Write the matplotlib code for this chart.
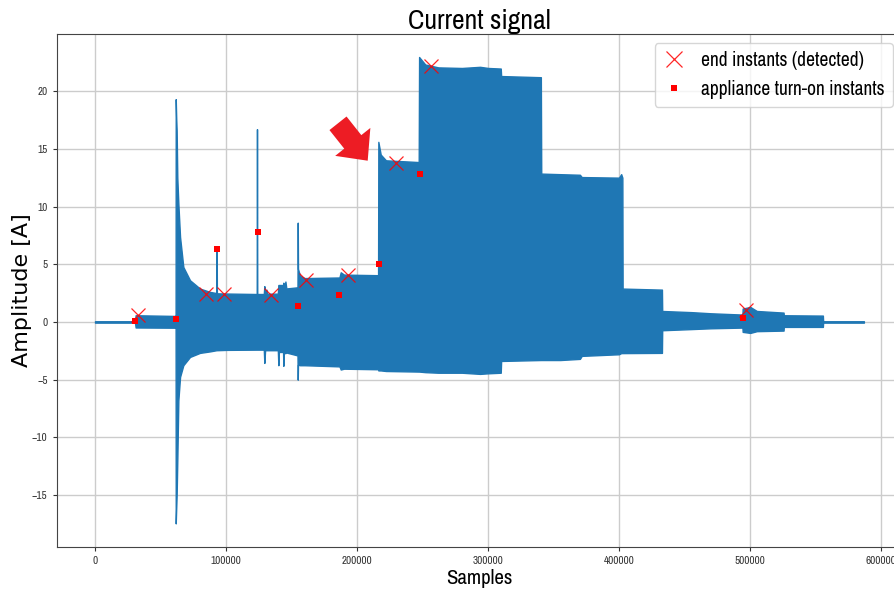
import matplotlib
matplotlib.use("Agg")
import matplotlib.pyplot as plt
from matplotlib import font_manager
from matplotlib.lines import Line2D
from matplotlib.patches import FancyArrow
from matplotlib.transforms import IdentityTransform

# the horizontal texts in the screenshot use a narrow face; take the narrowest one installed
narrow_family = 'Liberation Sans'
narrow_stretch = 'normal'
installed = font_manager.fontManager.ttflist
for f in installed:
    if ('Narrow' in f.name or 'Condensed' in f.name) and f.style == 'normal' and f.weight in (400, 'normal', 'regular'):
        narrow_family = f.name
        break
else:
    for f in installed:
        if f.stretch in ('condensed', 'semi-condensed') and f.style == 'normal' and f.weight in (400, 'normal', 'regular'):
            narrow_family = f.name
            narrow_stretch = f.stretch
            break
narrow = dict(family=[narrow_family, 'DejaVu Sans'], stretch=narrow_stretch)

# envelope of the current signal
env_x = [0, 30500, 31000, 61300, 61500, 61600, 62000, 62300, 62800, 63600,
         64900, 67400, 72500, 80100, 87800, 92700, 92860, 93000, 100500, 123400,
         123600, 123800, 128800, 129200, 129800, 130800, 131200, 139500, 139900, 140300,
         143500, 143700, 144000, 145300, 146000, 154500, 154700, 154900, 156400, 160000,
         186500, 187500, 190000, 216000, 216200, 218000, 222000, 247000, 247300, 252000,
         262000, 280000, 293800, 300000, 309600, 309900, 340200, 340500, 355000, 370000,
         371400, 399800, 401500, 402400, 402600, 432600, 432800, 455000, 470000, 494000,
         494200, 500000, 505000, 525400, 525600, 555400, 555600, 586700]
env_upper = [0.06, 0.06, 0.58, 0.52, 0.50, 19.3, 17.5, 16.6, 12.5, 10.25,
             7.36, 4.76, 3.61, 2.89, 2.60, 2.50, 6.35, 2.48, 2.46, 2.42,
             16.7, 2.42, 2.42, 3.1, 2.5, 2.8, 2.45, 2.45, 3.2, 3.2,
             3.2, 3.4, 2.7, 3.5, 2.9, 3.0, 8.6, 4.6, 4.0, 3.8,
             3.85, 4.3, 4.1, 4.05, 15.6, 14.5, 14.0, 13.85, 22.95, 22.3,
             22.05, 22.0, 22.1, 22.0, 21.95, 21.3, 21.2, 12.85, 12.8, 12.75,
             12.55, 12.5, 12.8, 12.5, 2.89, 2.8, 0.95, 0.85, 0.75, 0.64,
             1.16, 1.3, 0.95, 0.81, 0.58, 0.55, 0.06, 0.06]
env_lower = [-0.06, -0.06, -0.48, -0.50, -0.50, -17.45, -16.0, -15.0, -12.0, -6.8,
             -4.76, -3.75, -3.03, -2.68, -2.55, -2.45, -2.45, -2.45, -2.42, -2.40,
             -2.40, -2.40, -2.40, -3.55, -2.45, -2.45, -2.45, -2.45, -3.75, -2.6,
             -2.6, -3.8, -2.7, -2.7, -2.65, -2.9, -5.0, -3.7, -3.75, -3.75,
             -3.85, -4.12, -4.05, -4.1, -4.2, -4.2, -4.25, -4.3, -4.3, -4.35,
             -4.4, -4.4, -4.5, -4.45, -4.4, -3.38, -3.3, -3.3, -3.3, -3.2,
             -2.94, -2.8, -2.7, -2.7, -2.7, -2.68, -0.72, -0.62, -0.55, -0.49,
             -0.86, -0.95, -0.8, -0.75, -0.43, -0.43, -0.06, -0.06]

# end instants (detected)
end_x = [33100, 84400, 98700, 134600, 160800, 192800, 229700, 256100, 496700]
end_y = [0.58, 2.46, 2.46, 2.31, 3.67, 4.1, 13.77, 22.16, 1.07]

# appliance turn-on instants
on_x = [30800, 62100, 92900, 124100, 154900, 185900, 216700, 248000, 494600]
on_y = [0.09, 0.23, 6.35, 7.77, 1.36, 2.37, 5.05, 12.79, 0.38]

xticks = [0, 100000, 200000, 300000, 400000, 500000, 600000]
yticks = [-15, -10, -5, 0, 5, 10, 15, 20]

fig = plt.figure(figsize=(8.95, 5.92), dpi=100)
ax = fig.add_axes([0.0632, 0.0765, 0.945, 0.8666])

ax.fill_between(env_x, env_lower, env_upper, color='#1f77b4', edgecolor='#1f77b4', linewidth=1.0)
ax.plot(end_x, end_y, 'x', color='red', ms=10, mew=0.9, alpha=0.85)
ax.plot(on_x, on_y, 's', color='red', ms=4, mew=0)

ax.grid(True, color='#cccccc', linewidth=1.0)
ax.set_axisbelow(True)
for sp in ax.spines.values():
    sp.set_color('#444444')
ax.tick_params(labelsize=8, length=3, width=0.8, colors='#333333')
ax.set_xticks(xticks)
ax.set_xticklabels([str(t) for t in xticks], **narrow)
ax.set_yticks(yticks)
ax.set_yticklabels([str(t).replace('-', '\u2212') for t in yticks], **narrow)

ax.set_title('Current signal', fontsize=20, pad=3, **narrow)
ax.set_xlabel('Samples', fontsize=15, **narrow)
ax.xaxis.set_label_coords(0.5, -0.043)
ax.set_ylabel('Amplitude [A]', fontsize=16, family='DejaVu Sans')
ax.yaxis.set_label_coords(-0.029, 0.5)

handles = [Line2D([], [], ls='', marker='x', color='red', ms=12, mew=0.9, alpha=0.85),
           Line2D([], [], ls='', marker='s', color='red', ms=4, mew=0)]
ax.legend(handles, ['end instants (detected)', 'appliance turn-on instants'],
          loc='upper right', prop=font_manager.FontProperties(size=14, **narrow),
          handlelength=1.2, framealpha=0.8)

# red arrow pasted on the figure, in pixel units
arrow = FancyArrow(338, 592 - 123.3, 29.7, -37.4, width=21.8, head_width=44.9,
                   head_length=24, length_includes_head=True, color='#ed1c24',
                   linewidth=0, transform=IdentityTransform())
fig.add_artist(arrow)

fig.savefig('out.png', dpi=100)
